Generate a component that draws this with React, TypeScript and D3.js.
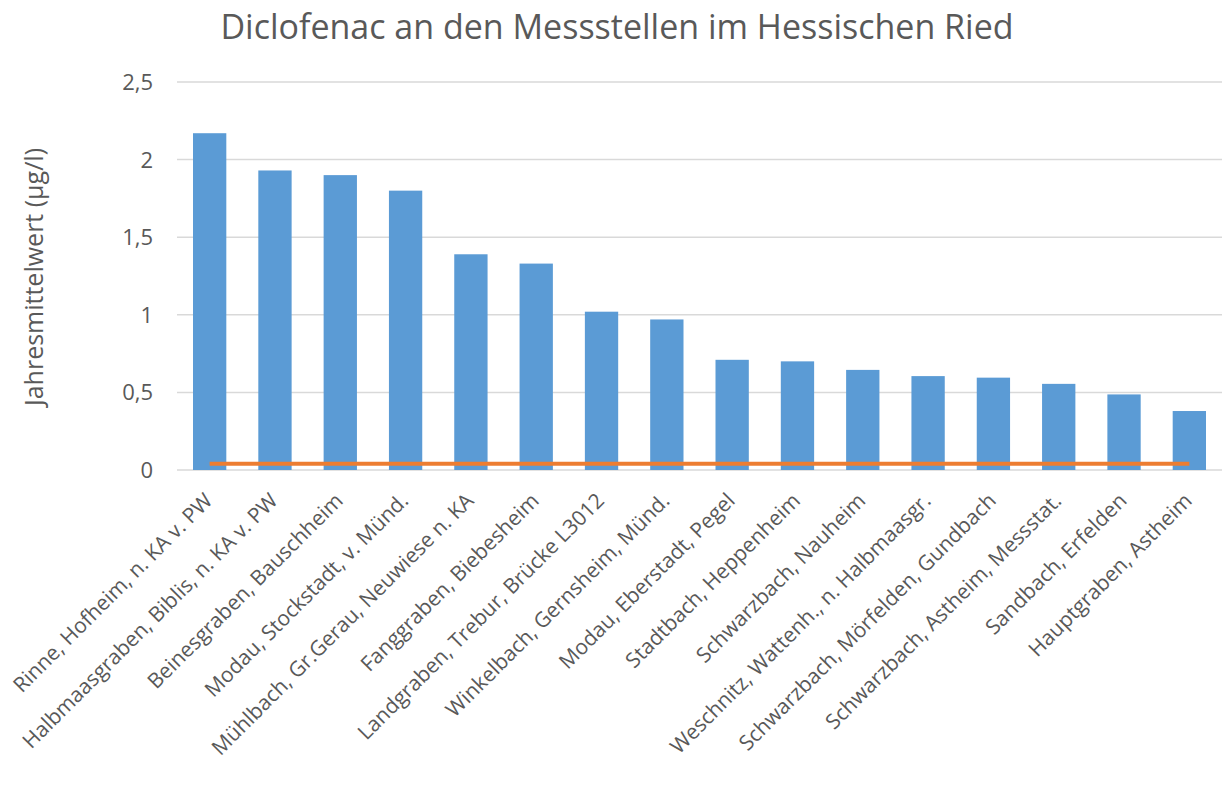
import React, { useEffect, useRef } from 'react';
import * as d3 from 'd3';

const stations = [
  'Rinne, Hofheim, n. KA v. PW',
  'Halbmaasgraben, Biblis, n. KA v. PW',
  'Beinesgraben, Bauschheim',
  'Modau, Stockstadt, v. Münd.',
  'Mühlbach, Gr.Gerau, Neuwiese n. KA',
  'Fanggraben, Biebesheim',
  'Landgraben, Trebur, Brücke L3012',
  'Winkelbach, Gernsheim, Münd.',
  'Modau, Eberstadt, Pegel',
  'Stadtbach, Heppenheim',
  'Schwarzbach, Nauheim',
  'Weschnitz, Wattenh., n. Halbmaasgr.',
  'Schwarzbach, Mörfelden, Gundbach',
  'Schwarzbach, Astheim, Messstat.',
  'Sandbach, Erfelden',
  'Hauptgraben, Astheim',
];
const annualMean = [2.17, 1.93, 1.9, 1.8, 1.39, 1.33, 1.02, 0.97, 0.71, 0.7, 0.645, 0.605, 0.595, 0.555, 0.487, 0.38];
const threshold = stations.map(() => 0.04);
const yTicks = [0, 0.5, 1, 1.5, 2, 2.5];

const FONT = '"Open Sans", "Noto Sans", sans-serif';

const App = () => {
  const svgRef = useRef<SVGSVGElement>(null);

  useEffect(() => {
    const svg = d3.select(svgRef.current);
    svg.selectAll('*').remove();

    const margin = { top: 82, right: 7, bottom: 325, left: 177 };
    const width = 1229 - margin.left - margin.right;
    const height = 795 - margin.top - margin.bottom;

    const x = d3.scaleBand().domain(stations).range([0, width]).paddingInner(0.49).paddingOuter(0.245);
    const y = d3.scaleLinear().domain([0, 2.5]).range([height, 0]);

    svg.append('text')
      .attr('x', 617)
      .attr('y', 39)
      .attr('text-anchor', 'middle')
      .attr('fill', '#595959')
      .attr('font-family', FONT)
      .attr('font-size', '34px')
      .text('Diclofenac an den Messstellen im Hessischen Ried');

    const g = svg.append('g').attr('transform', `translate(${margin.left},${margin.top})`);

    g.selectAll('.grid')
      .data(yTicks)
      .enter().append('line')
      .attr('x1', 0)
      .attr('x2', width)
      .attr('y1', d => y(d))
      .attr('y2', d => y(d))
      .attr('stroke', '#d9d9d9')
      .attr('stroke-width', 1.5);

    g.selectAll('.ytick')
      .data(yTicks)
      .enter().append('text')
      .attr('x', -24)
      .attr('y', d => y(d))
      .attr('dy', '0.36em')
      .attr('text-anchor', 'end')
      .attr('fill', '#595959')
      .attr('font-family', FONT)
      .attr('font-size', '22px')
      .text(d => d3.format('.1~f')(d).replace('.', ','));

    g.selectAll('.bar')
      .data(annualMean)
      .enter().append('rect')
      .attr('x', (d, i) => x(stations[i])!)
      .attr('y', d => y(d))
      .attr('width', x.bandwidth())
      .attr('height', d => height - y(d))
      .attr('fill', '#5b9bd5');

    const line = d3.line<number>()
      .x((d, i) => x(stations[i])! + x.bandwidth() / 2)
      .y(d => y(d));

    g.append('path')
      .datum(threshold)
      .attr('fill', 'none')
      .attr('stroke', '#ed7d31')
      .attr('stroke-width', 4)
      .attr('d', line);

    g.selectAll('.xlabel')
      .data(stations)
      .enter().append('text')
      .attr('transform', d => `translate(${x(d)! + x.bandwidth() / 2 + 4},${height + 32}) rotate(-45)`)
      .attr('text-anchor', 'end')
      .attr('fill', '#595959')
      .attr('font-family', FONT)
      .attr('font-size', '21px')
      .text(d => d);

    svg.append('text')
      .attr('transform', `translate(43,277) rotate(-90)`)
      .attr('text-anchor', 'middle')
      .attr('fill', '#595959')
      .attr('font-family', FONT)
      .attr('font-size', '25px')
      .text('Jahresmittelwert (µg/l)');
  }, []);

  return (
    <div>
      <svg ref={svgRef} width={1229} height={795} style={{ position: 'absolute', left: 0, top: 0 }}></svg>
    </div>
  );
};

export default App;
